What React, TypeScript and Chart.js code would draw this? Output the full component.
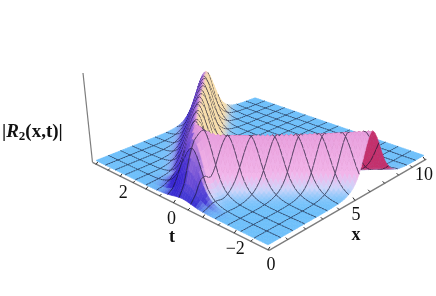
import React, { useEffect, useRef } from "react";
import { Chart, registerables } from "chart.js";

Chart.register(...registerables);

// Values
const xKnots = [0, 0.25, 0.5, 0.75, 1, 1.5, 2, 3, 4, 5, 6, 7, 8, 10];
const frontAmp = [0.05, 0.18, 0.46, 0.66, 0.78, 0.99, 0.97, 0.95, 0.95, 0.96, 0.98, 0.99, 0.99, 0.99];
const backAmp = [0.05, 0.18, 0.46, 0.66, 0.78, 0.99, 1, 1, 1, 1, 1, 1, 1, 1];
const frontRidgeT = [-0.3, -0.3, -0.26, -0.18, -0.08, -0.32, -0.6, -1.15, -1.73, -2.31, -2.88, -3.46, -4.04, -5.2];
const backRidgeT = [-0.3, -0.3, -0.26, -0.18, -0.08, 0.23, 0.52, 1.09, 1.64, 2.18, 2.73, 3.27, 3.82, 4.9];
const profileStep = 0.125;
const ridgeProfile = [1, 0.92, 0.74, 0.53, 0.34, 0.21, 0.125, 0.075, 0.042, 0.024, 0.0135, 0.007, 0.004, 0.002, 0];
const xTicks = [0, 5, 10];
const xTickLabels = ["0", "5", "10"];
const tTicks = [2, 0, -2];
const tTickLabels = ["2", "0", "\u22122"];

const XMIN = 0, XMAX = 10, TMIN = -3, TMAX = 3;
const XCELLS = 15, TCELLS = 15, SUBX = 5, SUBT = 5;
const G = 0.2256, H = 0.2209, HEIGHT_PX = 63;

function interp(xs: number[], ys: number[], v: number) {
  if (v <= xs[0]) return ys[0];
  for (let i = 1; i < xs.length; i++) {
    if (v <= xs[i]) {
      const f = (v - xs[i - 1]) / (xs[i] - xs[i - 1]);
      return ys[i - 1] + (ys[i] - ys[i - 1]) * f;
    }
  }
  return ys[ys.length - 1];
}
function prof(d: number) {
  const p = Math.abs(d) / profileStep;
  const i = Math.floor(p);
  if (i >= ridgeProfile.length - 1) return 0;
  const f = p - i;
  const at = (k: number) => ridgeProfile[k < 0 ? -k : Math.min(k, ridgeProfile.length - 1)];
  const p0 = at(i - 1), p1 = at(i), p2 = at(i + 1), p3 = at(i + 2);
  return Math.max(0, p1 + 0.5 * f * (p2 - p0 + f * (2 * p0 - 5 * p1 + 4 * p2 - p3 + f * (3 * (p1 - p2) + p3 - p0))));
}
function height(x: number, t: number) {
  const a = prof(t - interp(xKnots, frontRidgeT, x)) * interp(xKnots, frontAmp, x);
  const b = prof(t - interp(xKnots, backRidgeT, x)) * interp(xKnots, backAmp, x);
  return Math.hypot(a, b);
}
function project(x: number, t: number, h: number) {
  const u = (x - XMIN) / (XMAX - XMIN);
  const v = (t - TMIN) / (TMAX - TMIN);
  const w = 1 + G * u + H * v;
  const X = (251.7 * u - 150.8 * v + 268) / w;
  const Y = (-54.4 * u - 49 * v + 248) / w;
  return { x: X, y: Y - (HEIGHT_PX * h) / w };
}
const clamp = (v: number) => Math.max(0, Math.min(1, v));
const mix = (a: number[], b: number[], f: number) => a.map((c, i) => c + (b[i] - c) * f);
const BLUE = [110, 192, 250], PALE = [205, 212, 250], PINK = [242, 182, 234], TOP = [232, 160, 222];
const DARK = [48, 30, 205], TAN = [246, 222, 172], CRIMSON = [196, 48, 108];
function colour(x: number, t: number) {
  const h = height(x, t);
  const e = 0.02;
  const hx = (height(x + e, t) - height(x - e, t)) / (2 * e);
  const ht = (height(x, t + e) - height(x, t - e)) / (2 * e);
  let c = h < 0.14 ? mix(BLUE, PALE, h / 0.14) : h < 0.32 ? mix(PALE, PINK, (h - 0.14) / 0.18) : mix(PINK, TOP, (h - 0.32) / 0.68);
  const nx = -hx, nt = -ht;
  c = mix(c, DARK, clamp(-nx * 2.2) * clamp(nt * 2.2) * 0.9 * (1 - 0.45 * h));
  c = mix(c, DARK, clamp((1.15 - x) * 1.8) * clamp(-nx * 3) * 0.92 * (1 - 0.7 * h));
  const past = clamp((x - 1.6) * 2);
  c = mix(c, TAN, clamp(nx * 3) * clamp(-nt * 3) * past);
  c = mix(c, CRIMSON, clamp(nx * 3) * clamp(nt * 3) * past);
  return `rgb(${c.map(Math.round).join(",")})`;
}
const seg = (pts: { x: number; y: number }[], col: string, w: number, extra: object = {}) => ({
  data: pts, showLine: true, pointRadius: 0, borderColor: col, borderWidth: w, fill: false, tension: 0, ...extra,
});

function buildDatasets() {
  const out: any[] = [];
  const nx = XCELLS * SUBX, nt = TCELLS * SUBT;
  const dx = (XMAX - XMIN) / nx, dt = (TMAX - TMIN) / nt;
  const P = (i: number, j: number) => {
    const x = XMIN + i * dx, t = TMIN + j * dt;
    return project(x, t, 0.05 + height(x, t));
  };
  const AX = "rgb(125,125,125)";
  const a = project(0, 3.15, -0.02), b = project(0, TMIN - 0.03, -0.03), c = project(10.1, TMIN - 0.03, -0.03);
  out.push(seg([a, b], AX, 1.4), seg([b, c], AX, 1.4), seg([{ x: 83, y: 73 }, a], AX, 1.2));
  const tick = (p: { x: number; y: number }, q: { x: number; y: number }) => out.push(seg([p, q], "rgb(40,40,40)", 1));
  for (let t = -3; t <= 3; t += 0.5) {
    const p = project(0, t, -0.03);
    tick(p, { x: p.x + 2, y: p.y - (t % 1 === 0 ? 3 : 2) });
  }
  for (let x = 1; x <= 10; x += 1) {
    const p = project(x, TMIN - 0.03, -0.03);
    tick(p, { x: p.x - 2, y: p.y - (x % 5 === 0 ? 3 : 2) });
  }
  const LINE = "rgba(20,20,45,0.85)";
  for (let j = nt - 1; j >= 0; j--) {
    for (let i = nx - 1; i >= 0; i--) {
      const p00 = P(i, j), p10 = P(i + 1, j), p11 = P(i + 1, j + 1), p01 = P(i, j + 1);
      const col = colour(XMIN + (i + 0.5) * dx, TMIN + (j + 0.5) * dt);
      out.push({
        data: [p00, p10, p11, p01, p00], showLine: true, pointRadius: 0, tension: 0,
        fill: "shape", backgroundColor: col, borderColor: col, borderWidth: 0.6,
      });
      if ((j + 1) % SUBT === 0 && j + 1 < nt) out.push(seg([p01, p11], LINE, 0.7));
      if ((i + 1) % SUBX === 0 && i + 1 < nx) out.push(seg([p10, p11], LINE, 0.7));
      if (j % SUBT === 0 && j > 0) out.push(seg([p00, p10], LINE, 0.7));
      if (i % SUBX === 0 && i > 0) out.push(seg([p00, p01], LINE, 0.7));
    }
  }
  return out.reverse();
}

const textPlugin = {
  id: "plotText",
  afterDraw(chart: any) {
    const ctx = chart.ctx;
    ctx.save();
    ctx.fillStyle = "#111";
    ctx.textAlign = "center";
    ctx.textBaseline = "middle";
    ctx.font = '18px "Liberation Serif"';
    tTicks.forEach((t, i) => {
      const p = project(0, t, 0);
      ctx.fillText(tTickLabels[i], p.x + (t === 2 ? 3 : t === 0 ? -2 : 1), p.y + 18);
    });
    xTicks.forEach((x, i) => {
      const p = project(x, TMIN, 0);
      ctx.fillText(xTickLabels[i], p.x + [3, 2, 0][i], p.y + 17);
    });
    ctx.font = 'bold 18px "Liberation Serif"';
    ctx.fillText("t", 172, 237);
    ctx.fillText("x", 356, 235);
    ctx.textAlign = "left";
    let cx = 2;
    const parts: [string, string, number][] = [
      ["|", 'bold 19px "Liberation Serif"', 132],
      ["R", 'italic bold 19px "Liberation Serif"', 132],
      ["2", 'bold 13px "Liberation Serif"', 137],
      ["(x,t)|", 'bold 19px "Liberation Serif"', 132],
    ];
    parts.forEach(([s, f, y]) => {
      ctx.font = f;
      ctx.fillText(s, cx, y);
      cx += ctx.measureText(s).width;
    });
    ctx.restore();
  },
};

export default function App() {
  const ref = useRef<HTMLCanvasElement>(null);
  useEffect(() => {
    document.body.style.margin = "0";
    const chart = new Chart(ref.current as HTMLCanvasElement, {
      type: "scatter",
      data: { datasets: buildDatasets() },
      options: {
        animation: false,
        responsive: false,
        parsing: false,
        events: [],
        layout: { padding: 0 },
        plugins: { legend: { display: false }, tooltip: { enabled: false }, title: { display: false } },
        scales: {
          x: { type: "linear", min: 0, max: 436, display: false },
          y: { type: "linear", min: 0, max: 296, reverse: true, display: false },
        },
      } as any,
      plugins: [textPlugin],
    });
    return () => chart.destroy();
  }, []);
  return <canvas ref={ref} width={436} height={296} style={{ display: "block" }} />;
}
